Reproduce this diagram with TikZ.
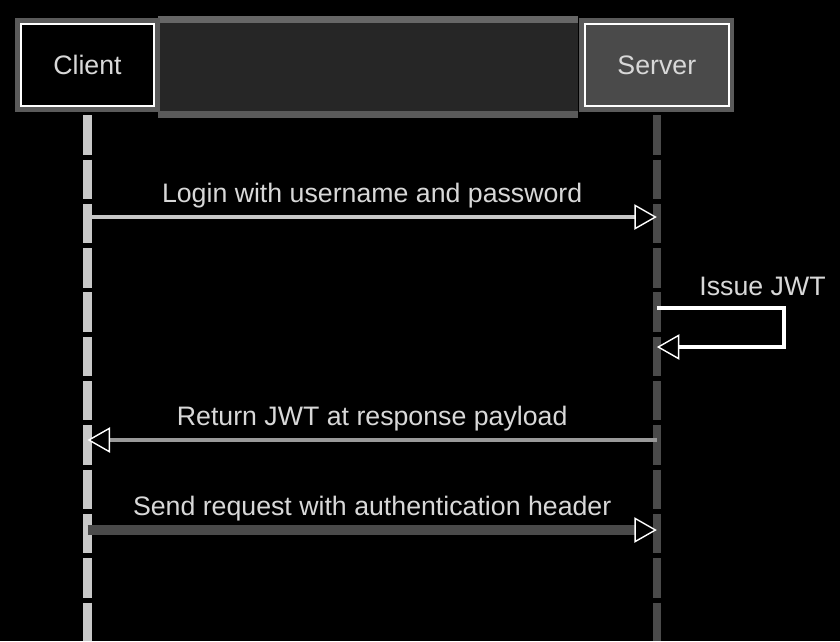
\documentclass[tikz,border=0pt]{standalone}
\usepackage{fontspec}
\setmainfont{Liberation Sans}
\usetikzlibrary{arrows.meta,positioning,calc}
\definecolor{bandgray}{HTML}{262626}
\definecolor{bandedge}{HTML}{666666}
\definecolor{framegray}{HTML}{5A5A5A}
\definecolor{servergray}{HTML}{4A4A4A}
\definecolor{textgray}{HTML}{D8D8D8}
\definecolor{lightline}{HTML}{C8C8C8}

\begin{document}
\begin{tikzpicture}[
            x=0.025cm, y=-0.025cm,
            actor/.style={rectangle, draw=white, line width=1.2pt, minimum height=2.05cm, inner sep=0pt,
                preaction={draw=framegray, line width=8pt}, font=\fontsize{19}{22}\selectfont, text=textgray},
            lifeline/.style={line width=6pt, dash pattern=on 28pt off 3.5pt},
            tip/.style={-{Triangle[length=16pt, width=18pt, color=white, fill=black, line width=1pt]}},
            msg/.style={tip, line width=3pt},
            lbl/.style={font=\fontsize{19}{22}\selectfont, text=textgray, inner sep=2pt, text height=14pt, text depth=4pt},
            node distance=1cm and 10.725cm
        ]

        \fill[black] (0,0) rectangle (840,641);
        \useasboundingbox (0,0) rectangle (840,641);

        % band between the two heads
        \fill[bandgray] (158,16) rectangle (578,118);
        \fill[bandedge] (158,16) rectangle (578,23);
        \fill[framegray] (158,111) rectangle (578,118);

        \node[actor, fill=black, minimum width=3.325cm] (client) at (87.5,65) {Client};
        \node[actor, fill=servergray, minimum width=3.6cm, right=of client] (server) {Server};

        \coordinate (client end) at (client.south |- 0,641);
        \coordinate (server end) at (server.south |- 0,641);
        \draw[lifeline, lightline] ([yshift=-6pt]client.south) -- (client end);
        \draw[lifeline, servergray] ([yshift=-6pt]server.south) -- (server end);

        \coordinate (c1) at (client.south |- 0,217);
        \coordinate (s1) at (server.south |- 0,217);
        \coordinate (s2) at (server.south |- 0,308);
        \coordinate (s3) at (server.south |- 0,347);
        \coordinate (c3) at (client.south |- 0,440);
        \coordinate (s3b) at (server.south |- 0,440);
        \coordinate (c4) at (client.south |- 0,530);
        \coordinate (s4) at (server.south |- 0,530);

        \draw[msg, lightline] (c1) -- (s1) node[lbl, midway, above=3pt] {Login with username and password};

        \draw[msg, white, line width=2.5pt] (s2) -- ++(127,0) node[lbl, midway, above=2pt, xshift=30pt] {Issue JWT} |- (s3);

        \draw[msg, gray!80] (s3b) -- (c3) node[lbl, midway, above=2.5pt] {Return JWT at response payload};

        \draw[msg, servergray, line width=7pt] (c4) -- (s4) node[lbl, midway, above=1pt] {Send request with authentication header};

    \end{tikzpicture}
\end{document}
